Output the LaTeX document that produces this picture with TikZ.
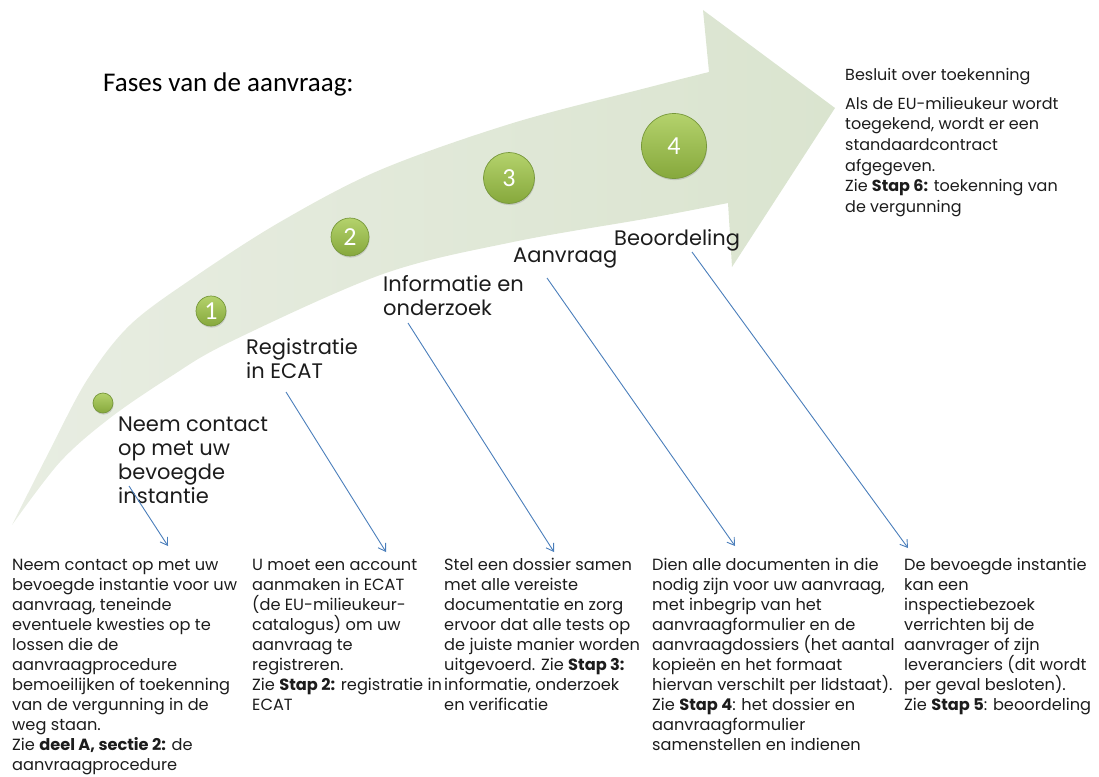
\documentclass[tikz,border=0pt]{standalone}
\usepackage{fontspec}
\setmainfont{Poppins}
\newfontfamily\calib{Carlito}
\usetikzlibrary{arrows.meta,shadows}
\definecolor{arrowA}{HTML}{E8EDE2}
\definecolor{arrowB}{HTML}{DAE4CF}
\definecolor{dottop}{HTML}{B4D26C}
\definecolor{dotbot}{HTML}{86A83C}
\definecolor{dotrim}{HTML}{76973A}
\definecolor{conn}{HTML}{4A7EBB}
\definecolor{ink}{HTML}{1C1C1C}
\begin{document}
\begin{tikzpicture}[x=1pt,y=-1pt,
  txt/.style={anchor=base west, inner sep=0, align=left, text=ink, font=\fontsize{16.2}{20}\selectfont},
  lbl/.style={anchor=base west, inner sep=0, align=left, text=ink, font=\fontsize{21}{23.7}\selectfont},
  dot/.style={circle, inner sep=0, top color=dottop, bottom color=dotbot, draw=dotrim, line width=0.7pt,
    text=white, font=\calib\fontsize{26}{26}\selectfont,
    drop shadow={opacity=0.3, shadow xshift=0.6pt, shadow yshift=-1.6pt}},
  connector/.style={draw=conn, line width=0.9pt, -{Straight Barb[length=7pt,width=9pt]}}
]
\useasboundingbox (0,0) rectangle (1099,776);

% curved arrow
\shade[left color=arrowA, right color=arrowB]
  plot[smooth, tension=0.55] coordinates {(12,525) (50,450) (87,380) (130,325) (193,278) (280,222) (380,170) (513,123) (650,87) (709,72)}
  -- (703,10) -- (835,108) -- (732,267) -- (728,203)
  -- plot[smooth, tension=0.55] coordinates {(728,203) (650,218) (513,242) (383,274) (230,342) (170,377) (110,418) (60,462) (12,525)}
  -- cycle;

% title
\node[anchor=base west, inner sep=0, text=black, font=\calib\fontsize{27}{30}\selectfont] (title) at (103,91) {Fases van de aanvraag:};

% dots
\node[dot, minimum size=20pt] (d0) at (103,403) {};
\node[dot, minimum size=30pt] (d1) at (211,311) {1};
\node[dot, minimum size=38pt] (d2) at (350,237) {2};
\node[dot, minimum size=51pt] (d3) at (509,178) {3};
\node[dot, minimum size=65pt] (d4) at (674,146) {4};

% labels on the arrow (anchored at the baseline of their last line)
\node[lbl] (l0) at (118,503) {Neem contact\\op met uw\\bevoegde\\instantie};
\node[lbl] (l1) at (246,378) {Registratie\\in ECAT};
\node[lbl] (l2) at (383,315) {Informatie en\\onderzoek};
\node[lbl] (l3) at (513,262) {Aanvraag};
\node[lbl] (l4) at (614,245) {Beoordeling};

% decision text
\node[txt, font=\fontsize{16}{20.7}\selectfont] (dech) at (845,80) {Besluit over toekenning};
\node[txt, font=\fontsize{16}{20.7}\selectfont] (decb) at (845,212.5) {Als de EU-milieukeur wordt\\toegekend, wordt er een\\standaardcontract\\afgegeven.\\Zie \textbf{Stap 6:} toekenning van\\de vergunning};

% bottom columns
\node[txt] (t0) at (12,770) {Neem contact op met uw\\bevoegde instantie voor uw\\aanvraag, teneinde\\eventuele kwesties op te\\lossen die de\\aanvraagprocedure\\bemoeilijken of toekenning\\van de vergunning in de\\weg staan.\\Zie \textbf{deel A, sectie 2:} de\\aanvraagprocedure};
\node[txt] (t1) at (252,710) {U moet een account\\aanmaken in ECAT\\(de EU-milieukeur-\\catalogus) om uw\\aanvraag te\\registreren.\\Zie \textbf{Stap 2:} registratie in\\ECAT};
\node[txt] (t2) at (444,710) {Stel een dossier samen\\met alle vereiste\\documentatie en zorg\\ervoor dat alle tests op\\de juiste manier worden\\uitgevoerd. Zie \textbf{Stap 3:}\\informatie, onderzoek\\en verificatie};
\node[txt] (t3) at (652,750) {Dien alle documenten in die\\nodig zijn voor uw aanvraag,\\met inbegrip van het\\aanvraagformulier en de\\aanvraagdossiers (het aantal\\kopieën en het formaat\\hiervan verschilt per lidstaat).\\Zie \textbf{Stap 4}: het dossier en\\aanvraagformulier\\samenstellen en indienen};
\node[txt] (t4) at (904,710) {De bevoegde instantie\\kan een\\inspectiebezoek\\verrichten bij de\\aanvrager of zijn\\leveranciers (dit wordt\\per geval besloten).\\Zie \textbf{Stap 5}: beoordeling};

% connector ends
\coordinate (c0s) at (129,486); \coordinate (c0e) at (168,546);
\coordinate (c1s) at (286,392); \coordinate (c1e) at (386,552);
\coordinate (c2s) at (408,323); \coordinate (c2e) at (554,552);
\coordinate (c3s) at (547,278); \coordinate (c3e) at (735,546);
\coordinate (c4s) at (692,252); \coordinate (c4e) at (908,548);
\draw[connector] (c0s) -- (c0e);
\draw[connector] (c1s) -- (c1e);
\draw[connector] (c2s) -- (c2e);
\draw[connector] (c3s) -- (c3e);
\draw[connector] (c4s) -- (c4e);
\end{tikzpicture}
\end{document}
